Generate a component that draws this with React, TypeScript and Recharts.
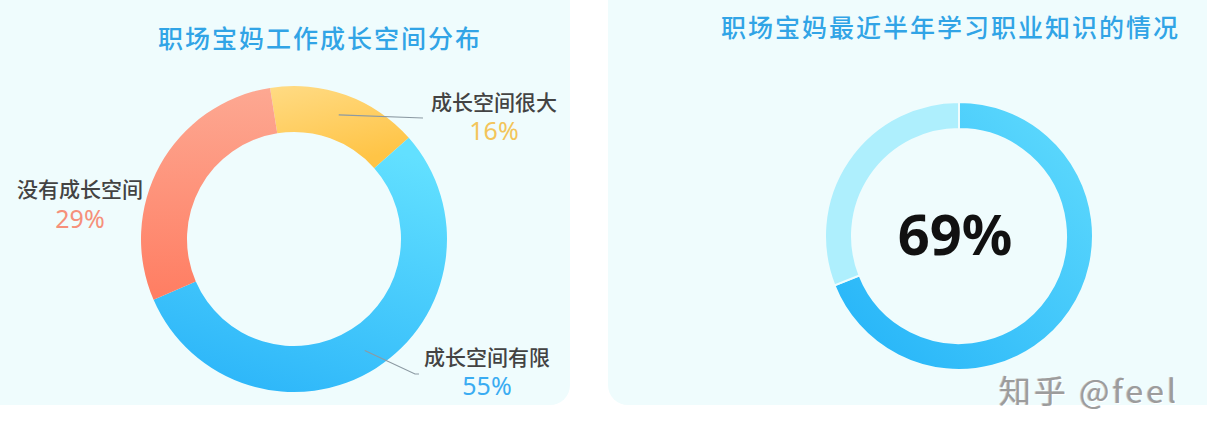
import { PieChart, Pie, Cell } from "recharts";

// left donut: growth room at work
const growthNames = ["成长空间很大", "成长空间有限", "没有成长空间"];
const growthValues = [16, 55, 29];
const growthTextColors = ["#f3c55a", "#3aacf2", "#f6907a"];

// right donut: studied job knowledge in last half year
const studyNames = ["学习过", "未学习"];
const studyValues = [69, 31];

const leftTitle = "职场宝妈工作成长空间分布";
const rightTitle = "职场宝妈最近半年学习职业知识的情况";
const centerText = "69%";
const signature = "知乎 @feel";

const growthData = growthNames.map((name, i) => ({ name, value: growthValues[i] }));
const studyData = studyNames.map((name, i) => ({ name, value: studyValues[i] }));

const RAD = Math.PI / 180;
const FONT = "'Noto Sans CJK SC', 'Noto Sans', sans-serif";
const PANEL = "#effcfd";

// where each label block sits, relative to the pie center
const labelSpots = [
  { dx: 200, nameDy: -138, pctDy: -109, lineTo: { dx: 129, dy: -121 } },
  { dx: 193, nameDy: 117, pctDy: 146, lineTo: { dx: 121, dy: 135 }, tail: 4 },
  { dx: -214, nameDy: -51, pctDy: -21 },
];

const renderGrowthLabel = (props: any) => {
  const { cx, cy, midAngle, innerRadius, outerRadius, index, value } = props;
  const spot = labelSpots[index];
  const r = (innerRadius + outerRadius) / 2 + 2;
  const sx = cx + r * Math.cos(-midAngle * RAD);
  const sy = cy + r * Math.sin(-midAngle * RAD);
  let path = "";
  if (spot.lineTo) {
    const ex = cx + spot.lineTo.dx;
    const ey = cy + spot.lineTo.dy;
    path = `M${sx},${sy}L${ex},${ey}`;
    if (spot.tail) path += `L${ex + spot.tail},${ey}`;
  }
  return (
    <g key={`lbl-${index}`}>
      {path && <path d={path} stroke="#8c9aa3" strokeWidth={1.2} fill="none" />}
      <text
        x={cx + spot.dx}
        y={cy + spot.nameDy}
        textAnchor="middle"
        dominantBaseline="central"
        fill="#434343"
        fontSize={21}
        fontWeight={500}
        fontFamily={FONT}
      >
        {growthNames[index]}
      </text>
      <text
        x={cx + spot.dx}
        y={cy + spot.pctDy}
        textAnchor="middle"
        dominantBaseline="central"
        fill={growthTextColors[index]}
        fontSize={25}
        fontFamily="'Noto Sans', sans-serif"
      >
        {value}%
      </text>
    </g>
  );
};

const titleStyle: React.CSSProperties = {
  position: "absolute",
  color: "#31a4e6",
  fontFamily: FONT,
  fontSize: 25,
  fontWeight: 500,
  letterSpacing: 2,
  whiteSpace: "nowrap",
  lineHeight: "30px",
};

export default function App() {
  return (
    <div
      style={{
        position: "absolute",
        left: 0,
        top: 0,
        width: 1207,
        height: 442,
        background: "#fff",
        overflow: "hidden",
      }}
    >
      <div
        style={{
          position: "absolute",
          left: -20,
          top: -20,
          width: 590,
          height: 425,
          borderRadius: 20,
          background: PANEL,
        }}
      />
      <div
        style={{
          position: "absolute",
          left: 608,
          top: -20,
          width: 630,
          height: 425,
          borderRadius: 20,
          background: PANEL,
        }}
      />
      <div style={{ ...titleStyle, left: 158, top: 22 }}>{leftTitle}</div>
      <div style={{ ...titleStyle, left: 721, top: 11 }}>{rightTitle}</div>

      <div style={{ position: "absolute", left: 0, top: 0 }}>
        <PieChart width={580} height={420}>
          <defs>
            <linearGradient id="gYellow" x1="0" y1="0" x2="0.4" y2="1">
              <stop offset="0%" stopColor="#ffdb84" />
              <stop offset="100%" stopColor="#ffc446" />
            </linearGradient>
            <linearGradient id="gBlue" x1="0.7" y1="0" x2="0.3" y2="1">
              <stop offset="0%" stopColor="#62e0ff" />
              <stop offset="100%" stopColor="#2db6f9" />
            </linearGradient>
            <linearGradient id="gOrange" x1="0.5" y1="0" x2="0.5" y2="1">
              <stop offset="0%" stopColor="#fda892" />
              <stop offset="100%" stopColor="#ff7d62" />
            </linearGradient>
          </defs>
          <Pie
            data={growthData}
            dataKey="value"
            nameKey="name"
            cx={289}
            cy={234}
            innerRadius={107}
            outerRadius={153}
            startAngle={99}
            endAngle={-261}
            stroke="none"
            label={renderGrowthLabel}
            labelLine={false}
            isAnimationActive={false}
          >
            <Cell fill="url(#gYellow)" />
            <Cell fill="url(#gBlue)" />
            <Cell fill="url(#gOrange)" />
          </Pie>
        </PieChart>
      </div>

      <div style={{ position: "absolute", left: 610, top: 0 }}>
        <PieChart width={597} height={420}>
          <defs>
            <linearGradient id="gStudy" x1="1" y1="0" x2="0" y2="1">
              <stop offset="0%" stopColor="#62dcfd" />
              <stop offset="100%" stopColor="#22b2f8" />
            </linearGradient>
          </defs>
          <Pie
            data={studyData}
            dataKey="value"
            nameKey="name"
            cx={344}
            cy={231}
            innerRadius={107}
            outerRadius={134}
            startAngle={90}
            endAngle={-270}
            stroke="#effcfd"
            strokeWidth={2}
            isAnimationActive={false}
          >
            <Cell fill="url(#gStudy)" />
            <Cell fill="#aeeffd" />
          </Pie>
        </PieChart>
        <div
          style={{
            position: "absolute",
            left: 245,
            top: 193,
            width: 200,
            textAlign: "center",
            fontFamily: "'Noto Sans', sans-serif",
            fontSize: 56,
            fontWeight: 700,
            lineHeight: "80px",
            color: "#111",
          }}
        >
          {centerText}
        </div>
      </div>

      <div
        style={{
          position: "absolute",
          left: 999,
          top: 369,
          fontFamily: FONT,
          fontSize: 32,
          letterSpacing: 3,
          lineHeight: "40px",
          color: "#9c9c9c",
          whiteSpace: "nowrap",
          textShadow: "1px 1px 0 #fff, -1px 0 0 #c8c8c8",
        }}
      >
        {signature}
      </div>
    </div>
  );
}
